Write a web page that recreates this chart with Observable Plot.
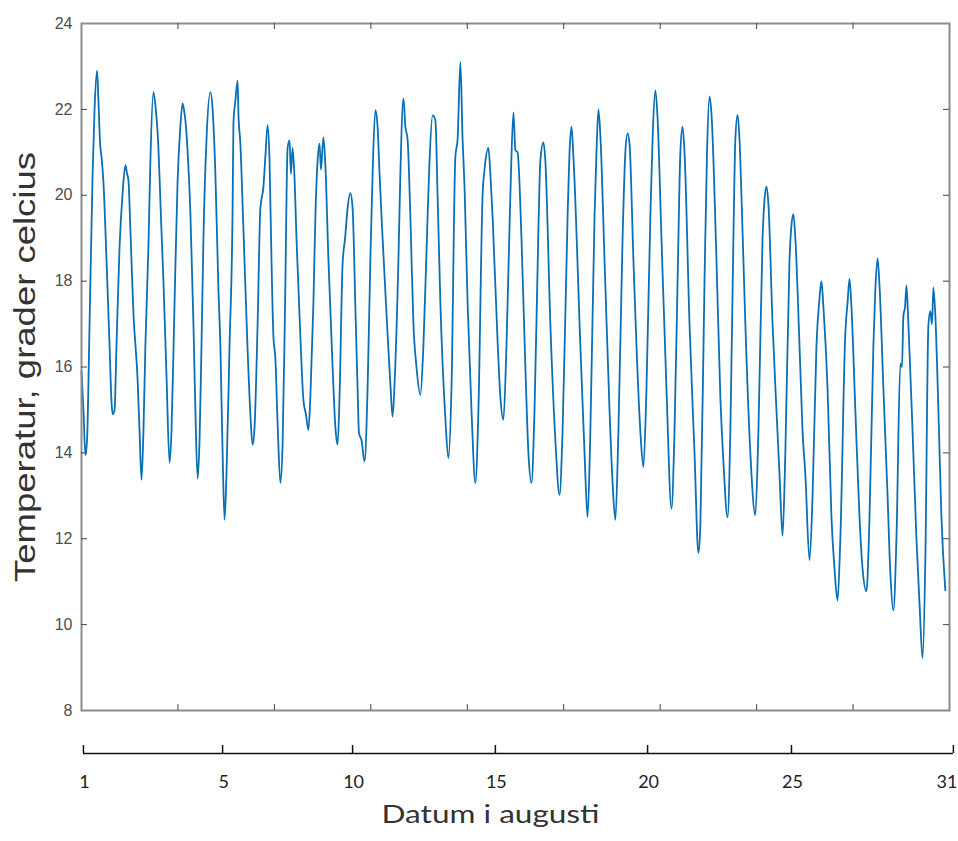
<!DOCTYPE html>
<html><head><meta charset="utf-8">
<script src="https://cdn.jsdelivr.net/npm/d3@7"></script>
<script src="https://cdn.jsdelivr.net/npm/@observablehq/plot@0.6"></script>
<style>body{margin:0;background:#fff;}</style>
</head><body><div id="chart"></div>
<script>
// elapsed time since 1 August 00:00, in days
const tDays = [0.00,0.07,0.14,0.20,0.29,0.40,0.47,0.56,0.61,0.67,0.72,0.79,0.90,1.01,1.08,1.12,1.19,1.26,1.37,1.48,1.58,1.64,1.69,1.76,1.87,2.02,2.09,2.16,2.23,2.30,2.41,2.48,2.59,2.66,2.77,2.86,2.95,3.06,3.17,3.24,3.35,3.46,3.55,3.64,3.71,3.74,3.83,3.92,4.03,4.10,4.18,4.25,4.32,4.39,4.50,4.64,4.72,4.82,4.93,5.00,5.08,5.15,5.22,5.33,5.44,5.47,5.54,5.62,5.65,5.72,5.83,5.98,6.08,6.16,6.23,6.34,6.44,6.55,6.62,6.70,6.77,6.84,6.91,6.98,7.07,7.16,7.24,7.33,7.42,7.49,7.54,7.60,7.67,7.74,7.85,7.99,8.08,8.17,8.24,8.35,8.42,8.50,8.57,8.62,8.71,8.78,8.89,9.04,9.14,9.22,9.29,9.40,9.49,9.58,9.68,9.76,9.86,9.94,9.99,10.08,10.19,10.30,10.40,10.48,10.58,10.66,10.73,10.84,11.00,11.12,11.20,11.27,11.41,11.48,11.59,11.66,11.74,11.84,11.95,12.06,12.20,12.31,12.46,12.53,12.64,12.74,12.82,12.92,13.10,13.21,13.32,13.46,13.54,13.64,13.72,13.79,13.90,14.04,14.18,14.29,14.44,14.51,14.65,14.72,14.80,14.98,15.08,15.19,15.30,15.44,15.55,15.62,15.70,15.84,15.98,16.09,16.20,16.31,16.45,16.52,16.63,16.70,16.88,17.06,17.21,17.32,17.50,17.57,17.64,17.71,17.96,18.11,18.22,18.32,18.47,18.54,18.61,18.68,18.83,19.01,19.12,19.22,19.33,19.48,19.58,19.66,19.73,19.87,19.98,20.12,20.23,20.34,20.48,20.57,20.66,20.74,20.88,21.06,21.24,21.35,21.49,21.56,21.64,21.71,21.89,22.07,22.21,22.28,22.43,22.52,22.61,22.68,22.86,23.00,23.11,23.26,23.36,23.47,23.54,23.62,23.69,23.76,23.90,24.08,24.26,24.37,24.52,24.59,24.66,24.73,24.88,25.02,25.13,25.24,25.34,25.49,25.56,25.63,25.70,25.85,25.96,26.06,26.21,26.32,26.46,26.57,26.64,26.71,26.86,27.00,27.11,27.22,27.32,27.50,27.58,27.65,27.72,27.86,28.01,28.12,28.26,28.37,28.51,28.58,28.66,28.73,28.87,29.02,29.12,29.23,29.34,29.48,29.54,29.59,29.65,29.70,29.77,29.92,30.06,30.17,30.28,30.38,30.49,30.56,30.62,30.67,30.74,30.85,30.96,31.10];
// temperature, degrees Celsius
const tempC = [15.9,15.0,13.95,14.3,17.0,20.5,22.0,22.9,22.2,21.2,20.9,20.3,18.5,16.5,15.2,14.9,15.0,16.5,18.8,20.05,20.7,20.5,20.35,19.2,17.25,15.7,14.5,13.37,14.5,16.5,18.8,20.8,22.4,22.1,21.1,19.5,18.0,15.8,13.77,14.5,17.5,20.35,21.5,22.14,21.9,21.75,20.9,19.6,17.0,15.0,13.4,14.3,16.5,19.0,21.3,22.4,22.0,20.5,17.8,16.47,14.0,12.44,13.5,16.5,19.7,21.67,22.2,22.67,21.9,21.2,19.2,16.4,14.9,14.19,14.6,17.0,19.7,20.2,20.9,21.63,20.8,18.5,16.7,16.2,14.5,13.3,14.2,17.5,21.1,21.28,20.5,21.1,20.4,19.0,17.2,15.23,14.9,14.53,15.3,17.5,19.5,20.8,21.2,20.6,21.35,20.7,18.5,16.0,14.6,14.19,15.3,18.4,19.0,19.7,20.05,19.7,17.4,15.5,14.46,14.3,13.8,15.5,18.5,20.5,21.98,21.6,20.5,19.0,17.0,15.6,14.84,15.6,18.5,20.5,22.25,21.6,21.3,19.5,17.0,16.0,15.35,16.5,19.5,20.8,21.86,21.75,20.0,17.5,14.8,13.88,15.5,20.9,21.3,23.1,21.3,20.2,17.5,15.0,13.3,15.0,20.0,20.6,21.1,20.5,19.5,16.6,15.3,14.77,16.5,20.0,21.93,21.05,21.0,19.0,16.0,14.0,13.3,15.0,19.2,20.8,21.23,20.8,17.0,14.3,13.02,14.5,19.5,21.0,21.6,20.9,16.5,14.0,12.5,14.5,19.5,21.0,22.0,21.4,18.5,15.0,13.3,12.44,14.5,19.0,21.0,21.44,21.2,18.5,16.5,14.5,13.67,15.5,19.5,21.5,22.44,21.8,19.0,15.5,12.7,14.5,19.0,21.0,21.6,21.0,17.0,14.0,11.67,12.3,18.0,21.0,22.3,21.9,18.5,15.3,13.8,12.5,14.5,19.0,21.3,21.87,21.3,20.0,17.0,14.0,12.55,14.5,19.0,19.9,20.2,19.8,17.0,15.0,13.5,12.07,14.0,18.5,19.3,19.56,19.0,16.5,14.5,13.5,11.5,13.0,16.5,17.6,18.0,17.4,15.5,12.5,11.3,10.56,12.0,16.8,17.5,18.05,17.4,15.0,12.5,11.3,10.78,12.5,16.5,17.8,18.53,17.9,15.5,13.0,11.2,10.33,12.0,16.08,16.0,17.2,17.4,17.9,17.0,14.5,12.0,10.5,9.22,11.5,16.97,17.3,17.0,17.85,17.2,15.0,12.5,10.8];
const yTicks = [8,10,12,14,16,18,20,22,24];
const dayLabels = [1,5,10,15,20,25,31];
// where the date labels sit on the time axis (elapsed days)
const dayLabelTimes = [0.07,5.08,9.76,14.90,20.38,25.56,31.39];
const samplesPerDay = 144, sampleTickStep = 500, sampleMax = 4500;
const yTitle = "Temperatur, grader celcius";
const xTitle = "Datum i augusti";

const series = tDays.map((t, i) => ({t, temp: tempC[i]}));
const frameTicks = d3.range(sampleTickStep, sampleMax, sampleTickStep).map(s => s / samplesPerDay);
const dayTicks = dayLabelTimes.map((t, i) => ({t, label: String(dayLabels[i])}));

const W = 958, H = 841, mL = 81, mR = 9, mT = 23, mB = 131;
const plotW = W - mL - mR, plotH = H - mT - mB;
const tk = 6;
const labelFont = "Lato, sans-serif";

const chart = Plot.plot({
  width: W, height: H,
  marginLeft: mL, marginRight: mR, marginTop: mT, marginBottom: mB,
  style: {fontFamily: "'Liberation Sans', Arial, sans-serif", background: "#fff"},
  x: {domain: [0, sampleMax / samplesPerDay], axis: null},
  y: {domain: [yTicks[0], yTicks[yTicks.length - 1]], axis: null},
  marks: [
    Plot.line(series, {x: "t", y: "temp", stroke: "#0a6fb5", strokeWidth: 1.8, curve: "monotone-x"}),
    Plot.frame({stroke: "#8c8c8c", strokeWidth: 2}),
    Plot.tickY(yTicks.slice(1, -1), {y: d => d, insetRight: plotW - tk, stroke: "#444"}),
    Plot.tickY(yTicks.slice(1, -1), {y: d => d, insetLeft: plotW - tk, stroke: "#444"}),
    Plot.tickX(frameTicks, {x: d => d, insetBottom: plotH - tk, stroke: "#444"}),
    Plot.tickX(frameTicks, {x: d => d, insetTop: plotH - tk, stroke: "#444"}),
    Plot.axisY(yTicks, {tickSize: 0, tickPadding: 9, fontSize: 16, fill: "#4d4d4d", label: null}),
    Plot.text([yTitle], {frameAnchor: "left", textAnchor: "middle", dx: -56, rotate: -90, fontSize: 30, fill: "#333"}),
    Plot.ruleY([yTicks[0]], {x1: d3.min(dayLabelTimes), x2: d3.max(dayLabelTimes), dy: 43, stroke: "#111", strokeWidth: 1.5}),
    Plot.tickX(dayLabelTimes, {x: d => d, insetTop: plotH - 8, dy: 43, stroke: "#111", strokeWidth: 1.5}),
    Plot.text(dayTicks.slice(0, -1), {x: "t", text: "label", frameAnchor: "bottom", dx: 1, dy: 77, fontSize: 18, fontFamily: labelFont, fill: "#222"}),
    Plot.text(dayTicks.slice(-1), {x: "t", text: "label", frameAnchor: "bottom", textAnchor: "end", dx: 4, dy: 77, fontSize: 18, fontFamily: labelFont, fill: "#222"}),
    Plot.text([xTitle], {frameAnchor: "bottom", textAnchor: "middle", dx: -25, dy: 112, fontSize: 25, fontFamily: labelFont, fill: "#333"})
  ]
});
// stretch the two titles to the lengths seen in the reference
chart.querySelectorAll("text").forEach(el => {
  if (el.textContent === yTitle) { el.setAttribute("textLength", 430); el.setAttribute("lengthAdjust", "spacingAndGlyphs"); }
  if (el.textContent === xTitle) { el.setAttribute("textLength", 218); el.setAttribute("lengthAdjust", "spacingAndGlyphs"); }
});
document.getElementById("chart").append(chart);
</script>
</body></html>
